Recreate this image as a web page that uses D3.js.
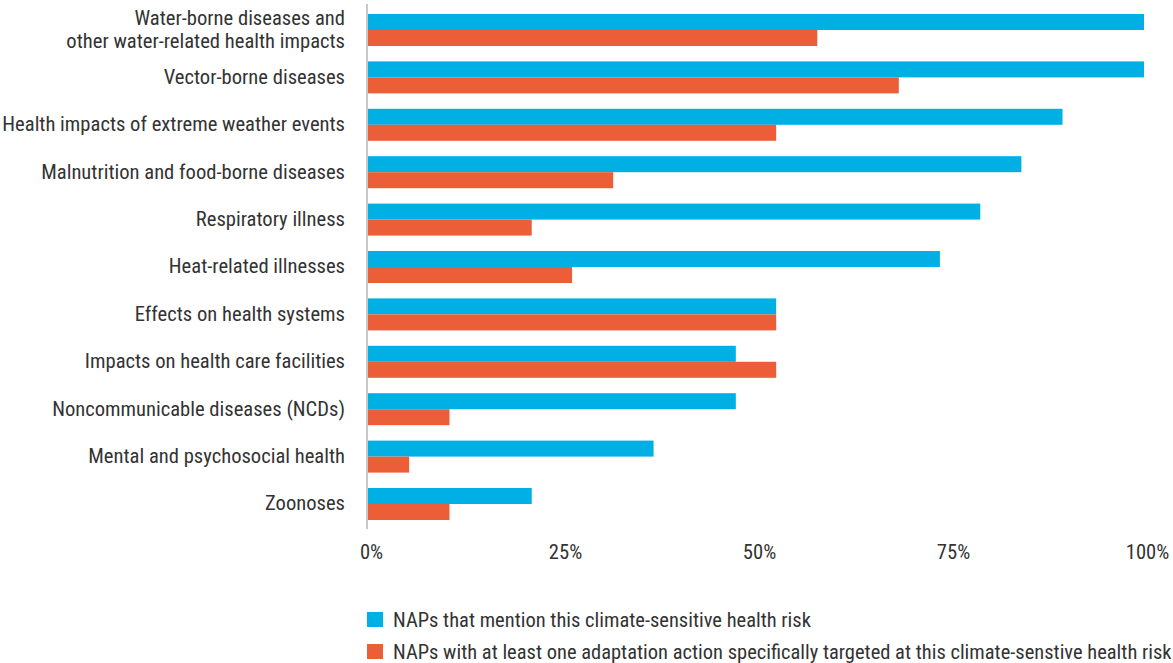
<!DOCTYPE html>
<html>
<head>
    <meta charset="utf-8">
    <title>Climate-sensitive health risks in NAPs</title>
    <script src="https://cdn.jsdelivr.net/npm/d3@7"></script>
    <style>
        body { margin: 0; background: #fff; }
        svg text { font-family: "Liberation Sans Narrow", "Roboto Condensed", "DejaVu Sans Condensed", sans-serif; fill: #333; }
    </style>
</head>
<body>
<script>
// Data (share of NAPs, in %)
var categories = [
    ['Water-borne diseases and', 'other water-related health impacts'],
    ['Vector-borne diseases'],
    ['Health impacts of extreme weather events'],
    ['Malnutrition and food-borne diseases'],
    ['Respiratory illness'],
    ['Heat-related illnesses'],
    ['Effects on health systems'],
    ['Impacts on health care facilities'],
    ['Noncommunicable diseases (NCDs)'],
    ['Mental and psychosocial health'],
    ['Zoonoses']
];
var mentioned = [100, 100, 89.5, 84.2, 78.9, 73.7, 52.6, 47.4, 47.4, 36.8, 21.1];
var targeted = [57.9, 68.4, 52.6, 31.6, 21.1, 26.3, 52.6, 52.6, 10.5, 5.3, 10.5];
var tickValues = [0, 25, 50, 75, 100];
var seriesNames = [
    'NAPs that mention this climate-sensitive health risk',
    'NAPs with at least one adaptation action specifically targeted at this climate-senstive health risk'
];
var colors = ['#00b0e4', '#eb5e37'];

var width = 1173,
    height = 663;
var plotLeft = 368, plotRight = 1144;
var plotTop = 14, step = 47.4, pad = 0.325;
var fontSize = '20.6px';

var svg = d3.select('body').append('svg')
    .attr('width', width)
    .attr('height', height);

var x = d3.scaleLinear().domain([0, 100]).range([plotLeft, plotRight]);
// band range sized so that step = 47.4 and bar pair = 32px
var y = d3.scaleBand()
    .domain(d3.range(categories.length))
    .range([plotTop, plotTop + step * (categories.length - pad)])
    .paddingInner(pad)
    .paddingOuter(0);
var barH = y.bandwidth() / 2;

// Bars
var groups = svg.selectAll('.cat')
    .data(categories)
    .enter().append('g')
    .attr('class', 'cat')
    .attr('transform', function(d, i) { return 'translate(0,' + y(i) + ')'; });

groups.append('rect')
    .attr('x', x(0))
    .attr('y', 0)
    .attr('height', barH)
    .attr('width', function(d, i) { return x(mentioned[i]) - x(0); })
    .attr('fill', colors[0]);

groups.append('rect')
    .attr('x', x(0))
    .attr('y', barH)
    .attr('height', barH)
    .attr('width', function(d, i) { return x(targeted[i]) - x(0); })
    .attr('fill', colors[1]);

// Category labels
groups.each(function(d) {
    var t = d3.select(this).append('text')
        .attr('x', 345)
        .attr('text-anchor', 'end')
        .style('font-size', fontSize);
    var lineH = 24;
    var y0 = barH + 6.5 - (d.length - 1) * lineH / 2;
    d.forEach(function(line, k) {
        t.append('tspan').attr('x', 345).attr('y', y0 + k * lineH).text(line);
    });
});

// Vertical axis line
svg.append('line')
    .attr('x1', 367).attr('x2', 367)
    .attr('y1', 4).attr('y2', 529)
    .attr('stroke', '#c8c8c8')
    .attr('stroke-width', 2);

// X axis tick labels
var xAxis = d3.axisBottom(x)
    .tickValues(tickValues)
    .tickSize(0)
    .tickPadding(0)
    .tickFormat(function(d) { return d + '%'; });
var gx = svg.append('g')
    .attr('transform', 'translate(3,544)')
    .call(xAxis);
gx.select('.domain').remove();
gx.selectAll('text')
    .style('font-size', fontSize)
    .style('font-family', null)
    .attr('fill', '#333');

// Legend
var legend = svg.selectAll('.legend')
    .data(seriesNames)
    .enter().append('g')
    .attr('class', 'legend')
    .attr('transform', function(d, i) { return 'translate(367,' + (612 + i * 32) + ')'; });
legend.append('rect')
    .attr('width', 16)
    .attr('height', 15)
    .attr('fill', function(d, i) { return colors[i]; });
legend.append('text')
    .attr('x', 26)
    .attr('y', 15)
    .style('font-size', '20.5px')
    .text(function(d) { return d; });
</script>
</body>
</html>
